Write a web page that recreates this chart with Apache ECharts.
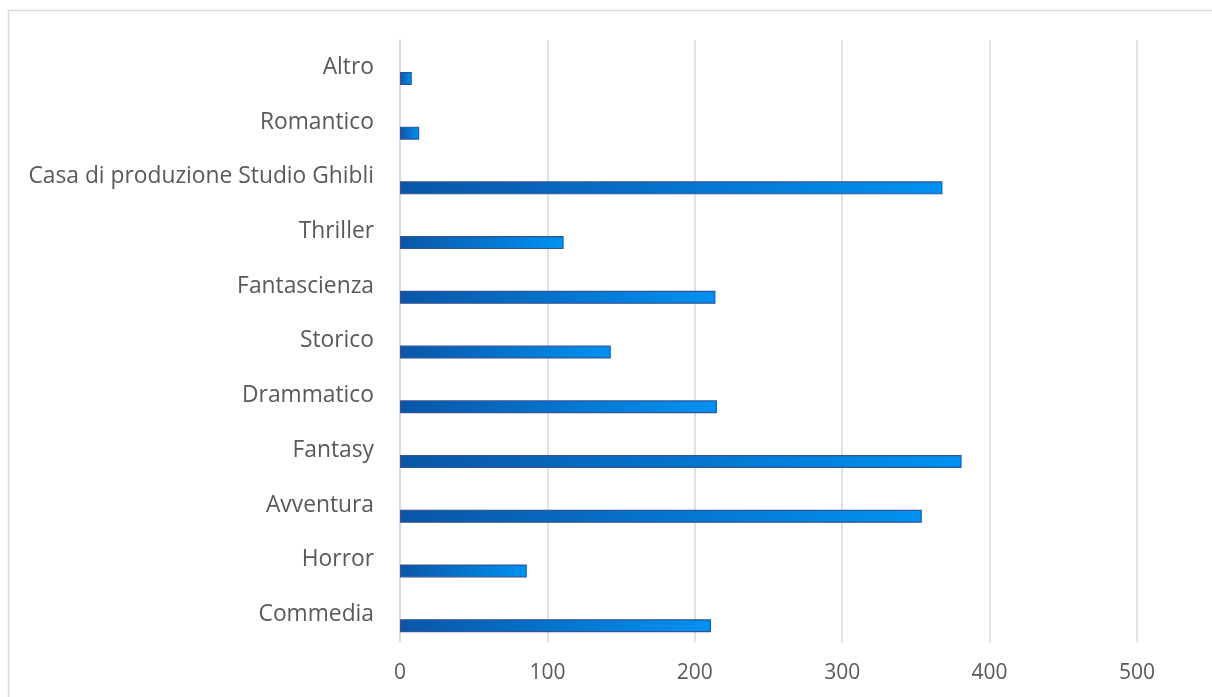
<!DOCTYPE html>
<html>
<head>
<meta charset="utf-8">
<script src="https://cdn.jsdelivr.net/npm/echarts@6/dist/echarts.min.js"></script>
<style>
  html, body { margin: 0; padding: 0; background: #fff; }
  #chart { width: 1212px; height: 697px; }
</style>
</head>
<body>
<div id="chart"></div>
<script>
// categories bottom to top, like the original chart
var categories = ['Commedia', 'Horror', 'Avventura', 'Fantasy', 'Drammatico', 'Storico',
    'Fantascienza', 'Thriller', 'Casa di produzione Studio Ghibli', 'Romantico', 'Altro'];
var values = [211, 86, 354, 381, 215, 143, 214, 111, 368, 13, 8];
// empty series: keeps the real bars in the lower half of each band
var spacer = [null, null, null, null, null, null, null, null, null, null, null];
var tickMin = 0;
var tickMax = 500;
var tickStep = 100;

var option = {
    animation: false,
    backgroundColor: '#fff',
    graphic: [{
        type: 'rect',
        shape: {x: 8.5, y: 10.5, width: 1400, height: 900},
        style: {fill: 'none', stroke: '#d9d9d9', lineWidth: 1.5},
        silent: true
    }],
    grid: {left: 400, right: 75, top: 40, bottom: 55},
    xAxis: {
        type: 'value',
        min: tickMin,
        max: tickMax,
        interval: tickStep,
        axisLine: {show: false},
        axisTick: {show: false},
        splitLine: {lineStyle: {color: '#d9d9d9', width: 1.5}},
        axisLabel: {margin: 21, color: '#595959', fontFamily: 'Open Sans', fontSize: 21}
    },
    yAxis: {
        type: 'category',
        data: categories,
        axisLine: {lineStyle: {color: '#d9d9d9', width: 1.5}},
        axisTick: {show: false},
        axisLabel: {
            margin: 26, color: '#595959', fontFamily: 'Open Sans', fontSize: 22.8,
            padding: [5, 0, 0, 0]
        }
    },
    series: [
        {
            name: 'spacer',
            type: 'bar',
            data: spacer,
            barWidth: 13,
            barGap: '70%'
        },
        {
            name: 'Film',
            type: 'bar',
            data: values,
            barWidth: 13,
            barGap: '70%',
            itemStyle: {
                color: new echarts.graphic.LinearGradient(0, 0, 1, 0, [
                    {offset: 0, color: '#0a56a8'},
                    {offset: 1, color: '#0092f2'}
                ]),
                borderColor: '#2f5597',
                borderWidth: 1.2
            }
        }
    ]
};

var myChart = echarts.init(document.getElementById('chart'));
myChart.setOption(option);
</script>
</body>
</html>
